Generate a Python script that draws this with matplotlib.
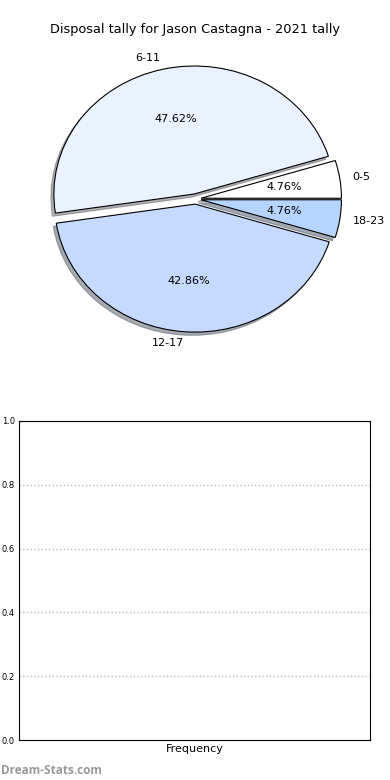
import matplotlib
matplotlib.use("Agg")
import matplotlib.pyplot as plt

categories = ["0-5", "6-11", "12-17", "18-23"]
counts = [1, 10, 9, 1]
colors = ["#FFFFFF", "#EAF1FF", "#C6D9FF", "#B5D5FF"]
title = "Disposal tally for Jason Castagna - 2021 tally"
yticks = [0.0, 0.2, 0.4, 0.6, 0.8, 1.0]

W, H = 390, 780
fig = plt.figure(figsize=(W / 100, H / 100), dpi=100)

# Pie axes
axl, axr, axt, axb = 20, 371, 39, 359
ax1 = fig.add_axes([axl / W, 1 - axb / H, (axr - axl) / W, (axb - axt) / H])
ax1.pie(counts, labels=categories, colors=colors, autopct="%1.2f%%",
        explode=[0.04] * len(counts),
        shadow=dict(ox=-0.015, oy=-0.018, shade=0.6), startangle=0,
        wedgeprops=dict(edgecolor="black", linewidth=0.8),
        textprops=dict(fontsize=8), labeldistance=1.09)
ax1.set_aspect("auto")
ax1.set_xlim(-1.25, 1.25)
ax1.set_ylim(-1.25, 1.25)
ax1.set_title(title, fontsize=9.3, pad=4)

# Empty bar axes
bl, br, bt, bb = 19, 370, 421, 740
ax2 = fig.add_axes([bl / W, 1 - bb / H, (br - bl) / W, (bb - bt) / H])
ax2.set_ylim(0, 1)
ax2.set_yticks(yticks)
ax2.set_yticklabels([f"{v:.1f}" for v in yticks], fontsize=6)
ax2.set_xticks([])
ax2.yaxis.grid(True, linestyle=":", color="#BBBBBB", linewidth=1)
ax2.set_axisbelow(True)
ax2.tick_params(axis="y", length=0, pad=3)
ax2.set_xlabel("Frequency", fontsize=8, labelpad=3)

fig.text(1 / W, 1 - 771 / H, "Dream-Stats.com", fontsize=8.5, color="#999999",
         fontweight="bold", family=["Open Sans", "DejaVu Sans"],
         ha="left", va="center")

fig.savefig("out.png", dpi=100, facecolor="white")
